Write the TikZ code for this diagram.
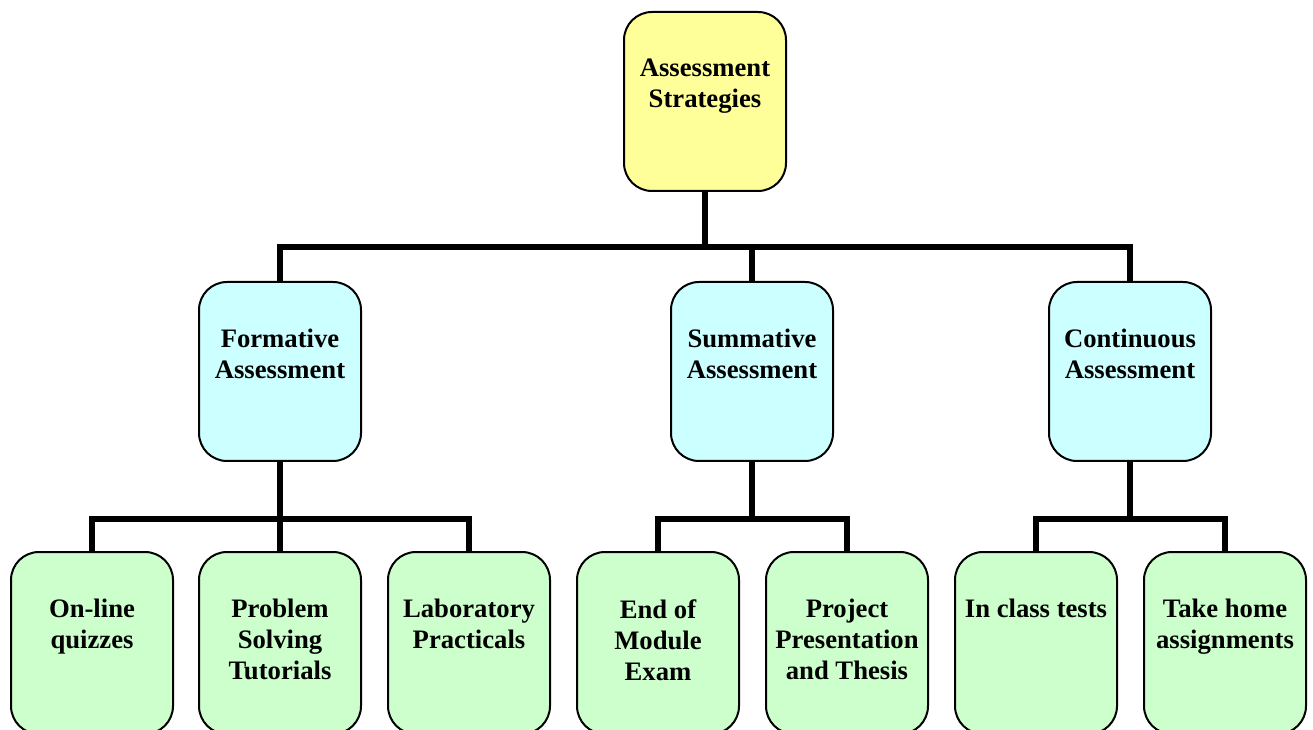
\documentclass[tikz,border=0pt]{standalone}
\usepackage{fontspec}
\setmainfont{Liberation Serif}
\definecolor{topfill}{HTML}{FFFF99}
\definecolor{midfill}{HTML}{CCFFFF}
\definecolor{lowfill}{HTML}{CCFFCC}
\begin{document}
\begin{tikzpicture}[x=0.75pt,y=-0.75pt,
  box/.style={draw=black, line width=1.5pt, rounded corners=21pt, minimum width=121.5pt, minimum height=134.25pt, inner sep=0pt},
  lowbox/.style={box, fill=lowfill, minimum height=136.5pt},
  lbl/.style={anchor=north, align=center, font=\fontsize{20}{23.25}\selectfont\bfseries, inner sep=0pt},
  conn/.style={line width=4.5pt}]
\useasboundingbox (0,0) rectangle (1313,730);
% boxes
\node[box, fill=topfill] (top) at (705,101.5) {};
\node[box, fill=midfill] (form) at (280,371.5) {};
\node[box, fill=midfill] (summ) at (752,371.5) {};
\node[box, fill=midfill] (cont) at (1130,371.5) {};
\node[lowbox] (q1) at (92,643) {};
\node[lowbox] (q2) at (280,643) {};
\node[lowbox] (q3) at (469,643) {};
\node[lowbox] (s1) at (658,643) {};
\node[lowbox] (s2) at (847,643) {};
\node[lowbox] (c1) at (1036,643) {};
\node[lowbox] (c2) at (1225,643) {};
% labels
\node[lbl] (topt) at ([yshift=-36pt]top.north) {Assessment\\Strategies};
\node[lbl] (formt) at ([yshift=-36pt]form.north) {Formative\\Assessment};
\node[lbl] (summt) at ([yshift=-36pt]summ.north) {Summative\\Assessment};
\node[lbl] (contt) at ([yshift=-36pt]cont.north) {Continuous\\Assessment};
\node[lbl] (q1t) at ([yshift=-36pt]q1.north) {On-line\\quizzes};
\node[lbl] (q2t) at ([yshift=-36pt]q2.north) {Problem\\Solving\\Tutorials};
\node[lbl] (q3t) at ([yshift=-36pt]q3.north) {Laboratory\\Practicals};
\node[lbl] (s1t) at ([yshift=-36pt]s1.north) {End of\\Module\\Exam};
\node[lbl] (s2t) at ([yshift=-36pt]s2.north) {Project\\Presentation\\and Thesis};
\node[lbl] (c1t) at ([yshift=-36pt]c1.north) {In class tests};
\node[lbl] (c2t) at ([yshift=-36pt]c2.north) {Take home\\assignments};
% connectors
\coordinate (b0) at (705,247);
\coordinate (b1) at (280,519);
\coordinate (b2) at (752,519);
\coordinate (b3) at (1130,519);
\draw[conn] (top.south) -- (b0);
\draw[conn] (form.north) |- (b0) -| (cont.north);
\draw[conn] (summ.north) -- (summ.north |- b0);
\draw[conn] (form.south) -- (b1);
\draw[conn] (q1.north) |- (b1) -| (q3.north);
\draw[conn] (q2.north) -- (q2.north |- b1);
\draw[conn] (summ.south) -- (b2);
\draw[conn] (s1.north) |- (b2) -| (s2.north);
\draw[conn] (cont.south) -- (b3);
\draw[conn] (c1.north) |- (b3) -| (c2.north);
\end{tikzpicture}
\end{document}
